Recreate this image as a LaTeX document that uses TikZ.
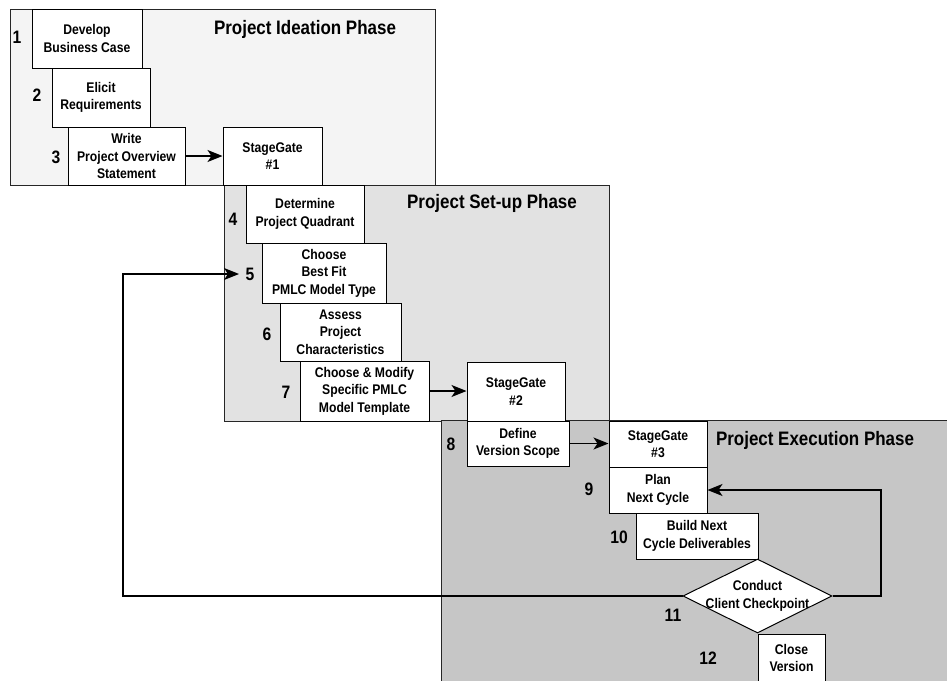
\documentclass[tikz,border=0pt]{standalone}
\usepackage{fontspec}
\setmainfont{Liberation Sans}[FakeStretch=0.87]
\usetikzlibrary{shapes.geometric,arrows.meta}
\definecolor{phaseA}{HTML}{F4F4F4}
\definecolor{phaseB}{HTML}{E2E2E2}
\definecolor{phaseC}{HTML}{C6C6C6}
\begin{document}
\begin{tikzpicture}[x=1pt,y=-1pt,
  phase/.style={draw=black!85, line width=0.8pt},
  box/.style={draw=black, fill=white, line width=1pt, align=center, inner sep=0pt,
    font=\bfseries\fontsize{14}{17.5}\selectfont},
  num/.style={font=\bfseries\fontsize{18}{18}\selectfont, inner sep=0pt},
  ptitle/.style={font=\bfseries\fontsize{19.5}{19.5}\selectfont, inner sep=0pt},
  arr/.style={-{Stealth[length=15pt,width=12pt,inset=4pt]}, line width=1.3pt}]
\useasboundingbox (0,0) rectangle (947,680);
\clip (0,0) rectangle (947,680);
% phases
\draw[phase, fill=phaseA] (10,9) rectangle (435,185);
\draw[phase, fill=phaseB] (224,185) rectangle (609,421);
\draw[phase, fill=phaseC] (441,420) rectangle (970,700);
\node[ptitle] (t1) at (305,29) {Project Ideation Phase};
\node[ptitle] (t2) at (492,203) {Project Set-up Phase};
\node[ptitle] (t3) at (815,440) {Project Execution Phase};
% boxes
\node[box, minimum width=110, minimum height=59] (b1) at (87,38.5) {Develop\\Business Case};
\node[box, minimum width=98, minimum height=59] (b2) at (101,97.5) {Elicit\\Requirements};
\node[box, minimum width=117, minimum height=58] (b3) at (126.5,156) {Write\\Project Overview\\Statement};
\node[box, minimum width=99, minimum height=58] (sg1) at (272.5,156) {StageGate\\\#1};
\node[box, minimum width=118, minimum height=58] (b4) at (305,214) {Determine\\Project Quadrant};
\node[box, minimum width=124, minimum height=60] (b5) at (324,273) {Choose\\Best Fit\\PMLC Model Type};
\node[box, minimum width=121, minimum height=58] (b6) at (340.5,332) {Assess\\Project\\Characteristics};
\node[box, minimum width=129, minimum height=60] (b7) at (364.5,391) {Choose \& Modify\\Specific PMLC\\Model Template};
\node[box, minimum width=98, minimum height=59] (sg2) at (516,391.5) {StageGate\\\#2};
\node[box, minimum width=102, minimum height=45] (b8) at (518,443.5) {Define\\Version Scope};
\node[box, minimum width=98, minimum height=46] (sg3) at (658,444) {StageGate\\\#3};
\node[box, minimum width=98, minimum height=46] (b9) at (658,490) {Plan\\Next Cycle};
\node[box, minimum width=122, minimum height=46] (b10) at (697,536) {Build Next\\Cycle Deliverables};
\node[draw=black, fill=white, line width=1pt, diamond, inner sep=0pt,
  minimum width=149, minimum height=74] (d) at (757.5,596) {};
\node[align=center, inner sep=0pt, font=\bfseries\fontsize{14}{17.5}\selectfont] (dt) at (d.center) {Conduct\\Client Checkpoint};
\node[box, minimum width=67, minimum height=48] (b12) at (791.5,658) {Close\\Version};
% numbers
\node[num] (n1) at (17,37) {1};
\node[num] (n2) at (37,95) {2};
\node[num] (n3) at (56,157) {3};
\node[num] (n4) at (233,219) {4};
\node[num] (n5) at (250,274) {5};
\node[num] (n6) at (267,334) {6};
\node[num] (n7) at (286,392) {7};
\node[num] (n8) at (451,444) {8};
\node[num] (n9) at (589,489) {9};
\node[num] (n10) at (619,537) {10};
\node[num] (n11) at (673,615) {11};
\node[num] (n12) at (708,658) {12};
% connectors
\draw[arr] (b3.east) -- (b3.east -| sg1.west);
\draw[arr] (b7.east) -- (b7.east -| sg2.west);
\draw[arr] (b8.east) -- (b8.east -| sg3.west);
\coordinate (r) at (881,596);
\draw[arr] (d.east) -- (r) |- (b9.east);
\coordinate (l) at (123,596);
\coordinate (t5) at (239,274);
\draw[arr] (d.west) -- (l) |- (t5);
\end{tikzpicture}
\end{document}
